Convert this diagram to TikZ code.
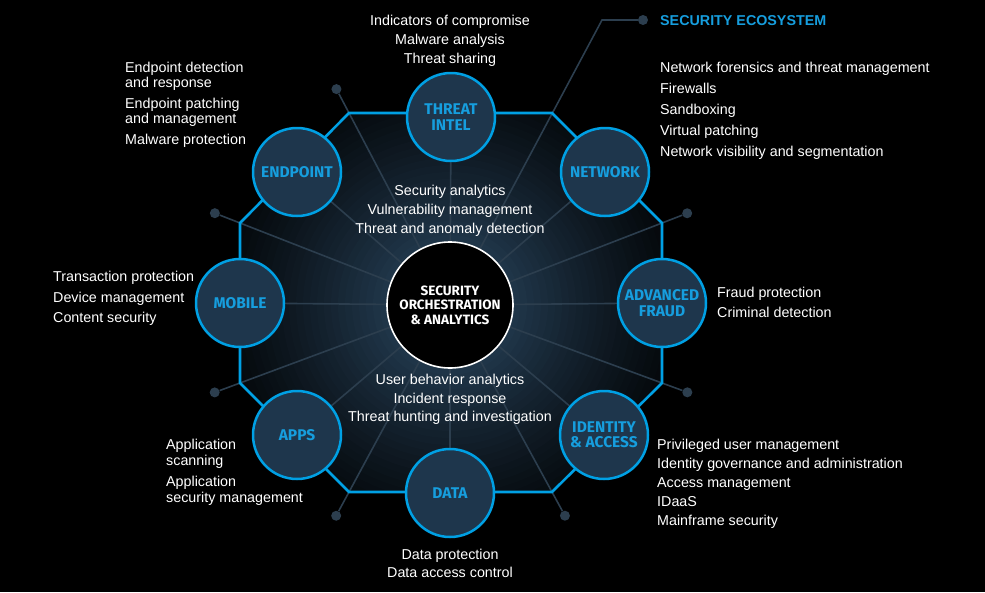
\documentclass[tikz,border=0pt]{standalone}
\usepackage{xcolor}
\usepackage{fontspec}
\setmainfont{Liberation Sans}
\newfontfamily\hubfont{Fira Sans}
\usetikzlibrary{calc, backgrounds}
\definecolor{ringblue}{RGB}{0, 160, 228}
\definecolor{labelblue}{RGB}{22, 158, 222}
\definecolor{discfill}{RGB}{30, 54, 76}
\definecolor{glowblue}{RGB}{31, 53, 72}
\definecolor{spokegray}{RGB}{44, 62, 78}

\begin{document}
\begin{tikzpicture}[x=1pt, y=-1pt,
        hub/.style={circle, draw=ringblue, line width=2.5pt, fill=discfill, minimum size=88pt, inner sep=0pt, align=center, text=labelblue, font=\hubfont\bfseries\fontsize{15.5}{15.5}\selectfont},
        core/.style={circle, draw=white, line width=1.6pt, fill=black, minimum size=126pt, inner sep=0pt, align=center, text=white, font=\hubfont\bfseries\fontsize{13.5}{14.5}\selectfont},
        blurb/.style={inner sep=0pt, text=white, font=\fontsize{14.3}{19}\selectfont},
        spoke/.style={draw=spokegray, line width=1.6pt},
        knob/.style={circle, fill=spokegray, inner sep=0pt, minimum size=10pt},
        rim/.style={draw=ringblue, line width=2.6pt, line join=miter}]
    \useasboundingbox (0,0) rectangle (985,592);

    % octagon corners
    \coordinate (v1) at (349,113);
    \coordinate (v2) at (552,113);
    \coordinate (v3) at (662,223);
    \coordinate (v4) at (662,383);
    \coordinate (v5) at (552,492);
    \coordinate (v6) at (349,492);
    \coordinate (v7) at (240,383);
    \coordinate (v8) at (240,223);

    % hubs
    \node[core] (core) at (450,305) {SECURITY\\ORCHESTRATION\\\& ANALYTICS};
    \node[hub] (endpoint) at (297,172) {ENDPOINT};
    \node[hub] (threat) at (451,117) {THREAT\\INTEL};
    \node[hub] (network) at (605,172) {NETWORK};
    \node[hub] (fraud) at (662,303) {ADVANCED\\FRAUD};
    \node[hub] (identity) at (604,435) {IDENTITY\\\& ACCESS};
    \node[hub] (data) at (450,493) {DATA};
    \node[hub] (apps) at (297,435) {APPS};
    \node[hub] (mobile) at (240,303) {MOBILE};

    % dots beyond the corners
    \foreach \v/\k in {v1/k1, v3/k3, v4/k4, v5/k5, v6/k6, v7/k7, v8/k8}
        \node[knob] (\k) at ($(\v)!-27pt!(core.center)$) {};
    \coordinate (ecoknee) at (602,20);
    \node[knob] (ecodot) at (643,20) {};

    \begin{scope}[on background layer]
        \fill[black] (0,0) rectangle (985,592);
        \begin{scope}
            \clip (v1) -- (v2) -- (v3) -- (v4) -- (v5) -- (v6) -- (v7) -- (v8) -- cycle;
            \foreach \i in {0,...,30}{
                \pgfmathsetmacro\rad{280-7*\i}
                \pgfmathsetmacro\mix{100*((280-\rad)/210)^1.3}
                \fill[glowblue!\mix!black] (core.center) circle (\rad pt);
            }
        \end{scope}
        \foreach \k in {k1, k3, k4, k5, k6, k7, k8}
            \draw[spoke] (core) -- (\k);
        \draw[spoke] (core) -- (ecoknee) -- (ecodot);
        \foreach \h in {endpoint, threat, network, fraud, identity, data, apps, mobile}
            \draw[spoke] (core) -- (\h);
        \draw[rim] (v1) -- (v2) -- (v3) -- (v4) -- (v5) -- (v6) -- (v7) -- (v8) -- cycle;
    \end{scope}

    % texts
    \node[blurb, anchor=north west, text=labelblue, font=\bfseries\fontsize{14.3}{19}\selectfont] (ecotitle) at (660,15) {SECURITY ECOSYSTEM};
    \node[blurb, anchor=north, align=center] (threattxt) at (450,15) {Indicators of compromise\\Malware analysis\\Threat sharing};
    \node[blurb, anchor=north west, align=left, font=\fontsize{14.3}{15}\selectfont] (endpointtxt) at (125,62) {Endpoint detection\\and response\\[6pt]Endpoint patching\\and management\\[6pt]Malware protection};
    \node[blurb, anchor=north west, align=left, font=\fontsize{14.3}{21}\selectfont] (networktxt) at (660,62) {Network forensics and threat management\\Firewalls\\Sandboxing\\Virtual patching\\Network visibility and segmentation};
    \node[blurb, anchor=north, align=center] (coretop) at (450,185) {Security analytics\\Vulnerability management\\Threat and anomaly detection};
    \node[blurb, anchor=north west, align=left, font=\fontsize{14.3}{20.5}\selectfont] (mobiletxt) at (53,271) {Transaction protection\\Device management\\Content security};
    \node[blurb, anchor=north west, align=left, font=\fontsize{14.3}{20}\selectfont] (fraudtxt) at (717,287) {Fraud protection\\Criminal detection};
    \node[blurb, anchor=north, align=center, font=\fontsize{14.3}{18.5}\selectfont] (corebottom) at (450,374) {User behavior analytics\\Incident response\\Threat hunting and investigation};
    \node[blurb, anchor=north west, align=left, font=\fontsize{14.3}{16}\selectfont] (appstxt) at (166,439) {Application\\scanning\\[5pt]Application\\security management};
    \node[blurb, anchor=north west, align=left] (identitytxt) at (657,439) {Privileged user management\\Identity governance and administration\\Access management\\IDaaS\\Mainframe security};
    \node[blurb, anchor=north, align=center, font=\fontsize{14.3}{18}\selectfont] (datatxt) at (450,549) {Data protection\\Data access control};
\end{tikzpicture}
\end{document}
